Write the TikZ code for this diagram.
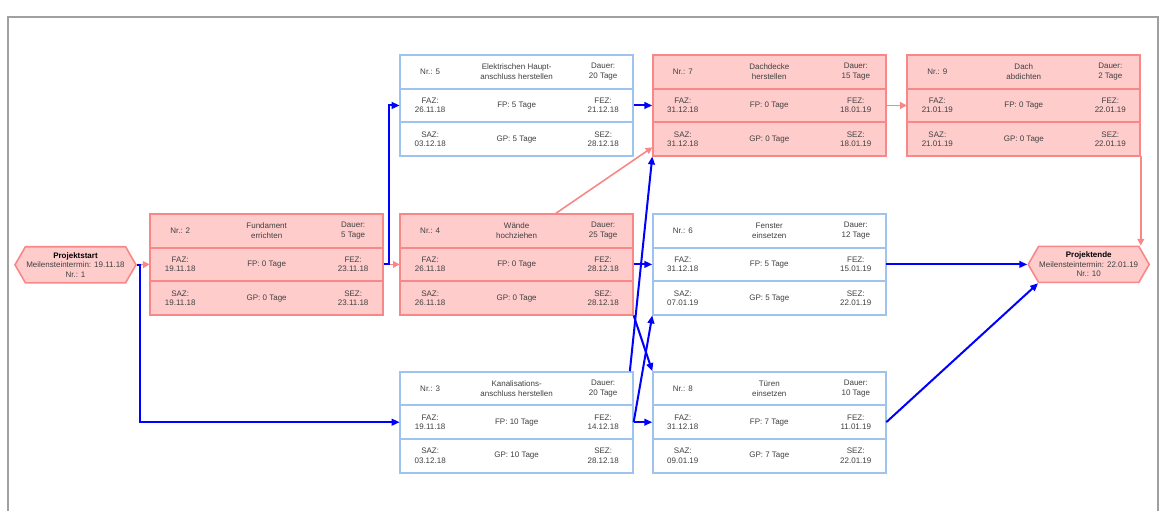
\documentclass[tikz,border=0pt]{standalone}
\usepackage{fontspec}
\setmainfont{Liberation Sans}
\usetikzlibrary{shapes.multipart,shapes.symbols,arrows.meta}

\definecolor{krit}{RGB}{255,204,204}
\definecolor{kritrand}{RGB}{248,136,136}
\definecolor{puffer}{RGB}{157,195,238}
\definecolor{rahmen}{RGB}{160,160,160}
\definecolor{schrift}{RGB}{64,64,64}

% one row of a task box: left, middle and right cell
\newcommand{\zeile}[3]{%
  \parbox[c][24.5pt][c]{45pt}{\centering #1}%
  \parbox[c][24.5pt][c]{84.75pt}{\centering #2}%
  \parbox[c][24.5pt][c]{45pt}{\centering #3}}

\begin{document}
\begin{tikzpicture}[
  font=\fontsize{6}{7.2}\selectfont,
  vorgang/.style={rectangle split,rectangle split parts=3,draw,inner sep=0pt,line width=0.75pt,text=schrift,postaction={draw,line width=1.5pt}},
  kritisch/.style={vorgang,draw=kritrand,fill=krit},
  frei/.style={vorgang,draw=puffer,fill=white},
  meilenstein/.style={signal,signal to=west and east,signal pointer angle=120,draw=kritrand,fill=krit,line width=1.2pt,minimum width=3.19cm,minimum height=0.95cm,inner sep=0pt,align=center,text=schrift},
  rotpfeil/.style={-{Triangle[length=5pt,width=5pt]},kritrand,line width=1.2pt},
  blaupfeil/.style={-{Triangle[length=6pt,width=5pt]},blue,line width=1.5pt},
]
\useasboundingbox (0,0) rectangle (30.58,-13.47);

% page frame, open at the bottom
\draw[rahmen,line width=1.5pt] (0.2,-13.6) |- (30.52,-0.435) -- (30.52,-13.6);

% milestones
\node[meilenstein] (start) at (1.99,-6.98) {\textcolor{black}{\textbf{Projektstart}}\\Meilensteintermin: 19.11.18\\Nr.: 1};
\node[meilenstein] (ende) at (28.70,-6.97) {\textcolor{black}{\textbf{Projektende}}\\Meilensteintermin: 22.01.19\\Nr.: 10};

% tasks
\node[kritisch] (t2) at (7.03,-6.97) {\zeile{Nr.: 2}{Fundament\\errichten}{Dauer:\\5 Tage}%
  \nodepart{two}\zeile{FAZ:\\19.11.18}{FP: 0 Tage}{FEZ:\\23.11.18}%
  \nodepart{three}\zeile{SAZ:\\19.11.18}{GP: 0 Tage}{SEZ:\\23.11.18}};
\node[frei] (t5) at (13.62,-2.78) {\zeile{Nr.: 5}{Elektrischen Haupt-\\anschluss herstellen}{Dauer:\\20 Tage}%
  \nodepart{two}\zeile{FAZ:\\26.11.18}{FP: 5 Tage}{FEZ:\\21.12.18}%
  \nodepart{three}\zeile{SAZ:\\03.12.18}{GP: 5 Tage}{SEZ:\\28.12.18}};
\node[kritisch] (t4) at (13.62,-6.97) {\zeile{Nr.: 4}{Wände\\hochziehen}{Dauer:\\25 Tage}%
  \nodepart{two}\zeile{FAZ:\\26.11.18}{FP: 0 Tage}{FEZ:\\28.12.18}%
  \nodepart{three}\zeile{SAZ:\\26.11.18}{GP: 0 Tage}{SEZ:\\28.12.18}};
\node[frei] (t3) at (13.62,-11.13) {\zeile{Nr.: 3}{Kanalisations-\\anschluss herstellen}{Dauer:\\20 Tage}%
  \nodepart{two}\zeile{FAZ:\\19.11.18}{FP: 10 Tage}{FEZ:\\14.12.18}%
  \nodepart{three}\zeile{SAZ:\\03.12.18}{GP: 10 Tage}{SEZ:\\28.12.18}};
\node[kritisch] (t7) at (20.28,-2.78) {\zeile{Nr.: 7}{Dachdecke\\herstellen}{Dauer:\\15 Tage}%
  \nodepart{two}\zeile{FAZ:\\31.12.18}{FP: 0 Tage}{FEZ:\\18.01.19}%
  \nodepart{three}\zeile{SAZ:\\31.12.18}{GP: 0 Tage}{SEZ:\\18.01.19}};
\node[frei] (t6) at (20.28,-6.97) {\zeile{Nr.: 6}{Fenster\\einsetzen}{Dauer:\\12 Tage}%
  \nodepart{two}\zeile{FAZ:\\31.12.18}{FP: 5 Tage}{FEZ:\\15.01.19}%
  \nodepart{three}\zeile{SAZ:\\07.01.19}{GP: 5 Tage}{SEZ:\\22.01.19}};
\node[frei] (t8) at (20.28,-11.13) {\zeile{Nr.: 8}{Türen\\einsetzen}{Dauer:\\10 Tage}%
  \nodepart{two}\zeile{FAZ:\\31.12.18}{FP: 7 Tage}{FEZ:\\11.01.19}%
  \nodepart{three}\zeile{SAZ:\\09.01.19}{GP: 7 Tage}{SEZ:\\22.01.19}};
\node[kritisch] (t9) at (26.99,-2.78) {\zeile{Nr.: 9}{Dach\\abdichten}{Dauer:\\2 Tage}%
  \nodepart{two}\zeile{FAZ:\\21.01.19}{FP: 0 Tage}{FEZ:\\22.01.19}%
  \nodepart{three}\zeile{SAZ:\\21.01.19}{GP: 0 Tage}{SEZ:\\22.01.19}};

% dependencies
\draw[rotpfeil] (start.east) -- (t2.west);
\draw[blaupfeil] (start.east) -- ++(0.08,0) |- (t3.west);
\draw[rotpfeil] (t2.east) -- (t4.west);
\draw[blaupfeil] (t2.east) -- ++(0.13,0) |- (t5.west);
\draw[blaupfeil] (t5.east) -- (t7.west);
\draw[rotpfeil] ([xshift=1.03cm]t4.north) -- ([yshift=0.24cm]t7.south west);
\draw[blaupfeil] (t4.east) -- (t6.west);
\draw[blaupfeil] (t4.south east) -- (t8.north west);
\draw[blaupfeil] ([xshift=-0.1cm]t3.north east) -- (t7.south west);
\draw[blaupfeil] (t3.east) -- (t6.south west);
\draw[blaupfeil] (t3.east) -- (t8.west);
\draw[rotpfeil] (t7.east) -- (t9.west);
\draw[rotpfeil] (t9.south east) -- (t9.south east |- ende.north);
\draw[blaupfeil] (t6.east) -- (ende.west);
\draw[blaupfeil] (t8.east) -- (ende.south west);

\end{tikzpicture}
\end{document}
